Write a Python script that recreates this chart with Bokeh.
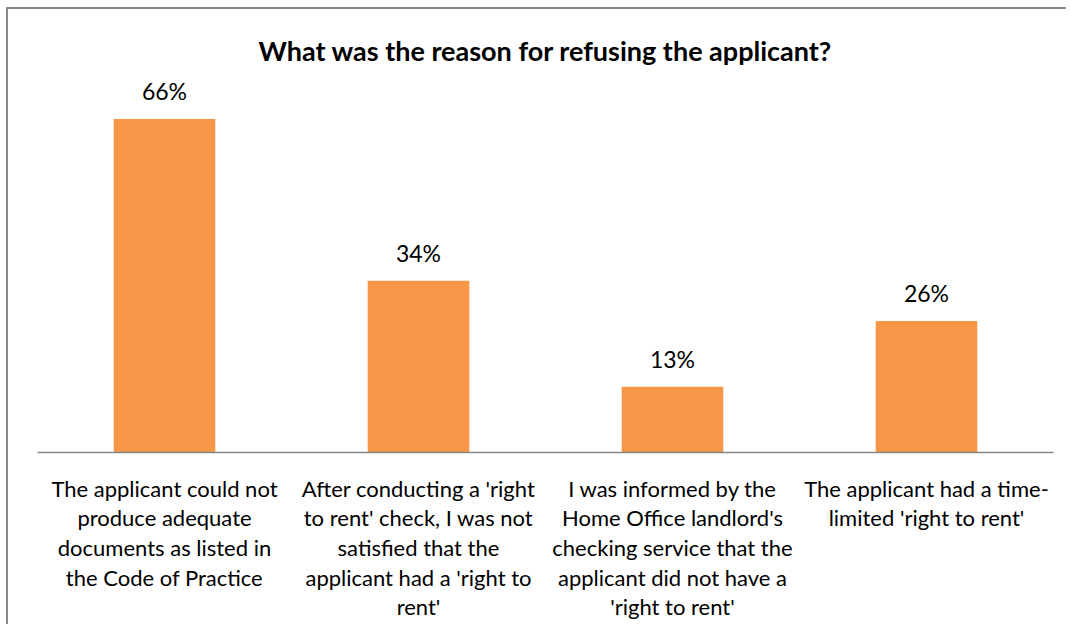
from bokeh.plotting import figure
from bokeh.models import Range1d, ColumnDataSource
from bokeh.core.properties import value
from bokeh.embed import file_html
from bokeh.resources import INLINE

categories = [
    "The applicant could not\nproduce adequate\ndocuments as listed in\nthe Code of Practice",
    "After conducting a 'right\nto rent' check, I was not\nsatisfied that the\napplicant had a 'right to\nrent'",
    "I was informed by the\nHome Office landlord's\nchecking service that the\napplicant did not have a\n'right to rent'",
    "The applicant had a time-\nlimited 'right to rent'",
]
values = [66, 34, 13, 26]
value_labels = ["66%", "34%", "13%", "26%"]

FONT = "Lato"

src = ColumnDataSource(dict(cat=categories, val=values, lab=value_labels))

p = figure(
    x_range=categories, y_range=Range1d(0, 75),
    width=1060, height=617,
    output_backend="svg", toolbar_location=None,
    title="What was the reason for refusing the applicant?",
    min_border_left=29, min_border_right=15,
    min_border_top=64, min_border_bottom=174,
)
p.styles = {"border-left": "2px solid #8a8a8a", "border-top": "2px solid #8a8a8a",
            "margin-left": "6px", "margin-top": "7px"}

p.title.align = "center"
p.title.text_font = FONT
p.title.text_font_size = "27px"
p.title.text_font_style = "bold"
p.title.text_color = "#000000"
p.title.standoff = 13

p.vbar(x="cat", top="val", width=0.4, source=src, color="#F79646", line_color=None)
p.text(x="cat", y="val", text="lab", source=src, text_align="center",
       text_baseline="alphabetic", y_offset=-28, text_font=value(FONT),
       text_font_size="23px", text_color="#000000")

p.yaxis.visible = False
p.xgrid.grid_line_color = None
p.ygrid.grid_line_color = None
p.outline_line_color = None

ax = p.xaxis[0]
ax.axis_line_color = "#868686"
ax.axis_line_width = 1.5
ax.major_tick_line_color = None
ax.minor_tick_line_color = None
ax.major_label_standoff = 16
ax.major_label_text_font = FONT
ax.major_label_text_font_size = "22px"
ax.major_label_text_color = "#000000"
ax.major_label_text_align = "center"
ax.major_label_text_baseline = "top"
ax.major_label_text_line_height = 1.1

open("out.html", "w").write(file_html(p, INLINE))
